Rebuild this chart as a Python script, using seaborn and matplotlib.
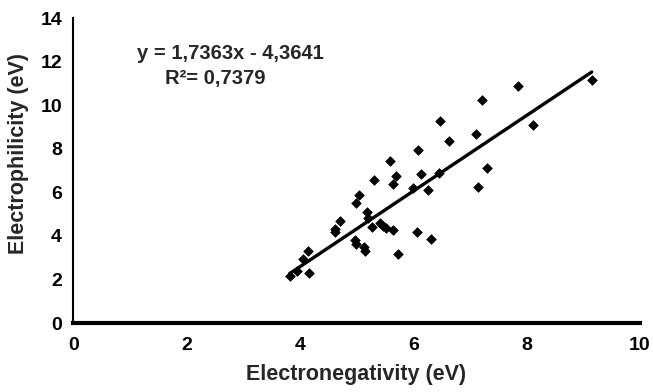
import matplotlib
matplotlib.use("Agg")
import matplotlib.pyplot as plt
import seaborn as sns
import numpy as np
import pandas as pd

electronegativity = [6.47, 6.64, 6.08, 5.59, 5.69, 5.30, 5.64, 6.13, 6.45, 5.99,
                     6.26, 5.04, 4.99, 5.18, 4.70, 4.62, 5.20, 5.27, 5.41, 5.46,
                     5.52, 5.64, 6.06, 6.31, 4.97, 4.99, 5.13, 5.15, 5.74, 4.14,
                     4.05, 3.82, 4.16, 9.15, 7.84, 7.22, 8.12, 7.10, 7.31, 7.15,
                     3.95, 4.62]
electrophilicity = [9.27, 8.35, 7.94, 7.43, 6.74, 6.56, 6.38, 6.83, 6.88, 6.19,
                    6.10, 5.87, 5.50, 5.09, 4.68, 4.31, 4.82, 4.40, 4.59, 4.45,
                    4.36, 4.27, 4.17, 3.85, 3.81, 3.62, 3.49, 3.30, 3.17, 3.30,
                    2.94, 2.15, 2.29, 11.15, 10.87, 10.23, 9.08, 8.67, 7.11, 6.24,
                    2.40, 4.20]
slope = 1.7363
intercept = -4.3641
r2 = 0.7379
x_ticks = [0, 2, 4, 6, 8, 10]
y_ticks = [0, 2, 4, 6, 8, 10, 12, 14]

df = pd.DataFrame({"x": electronegativity, "y": electrophilicity})
fit_x = np.array([min(electronegativity), max(electronegativity)])
fit_df = pd.DataFrame({"x": fit_x, "y": slope * fit_x + intercept})

sns.set_style("white")
plt.rcParams["font.family"] = ["Liberation Sans", "DejaVu Sans"]

fig = plt.figure(figsize=(6.53, 3.92), dpi=100)
ax = fig.add_axes([0.112, 0.176, 0.868, 0.778])

sns.lineplot(data=fit_df, x="x", y="y", ax=ax, color="black", linewidth=2.4)
sns.scatterplot(data=df, x="x", y="y", ax=ax, marker="D", s=24, color="black",
                edgecolor="black", linewidth=0.5, zorder=3)

ax.set_xlim(0, 10)
ax.set_ylim(0, 14)
ax.set_xticks(x_ticks)
ax.set_yticks(y_ticks)
ax.set_xticklabels([str(t) for t in x_ticks], fontsize=14, fontweight="bold")
ax.set_yticklabels([str(t) for t in y_ticks], fontsize=14, fontweight="bold")
ax.set_xlabel("Electronegativity (eV)", fontsize=15.5, fontweight="bold")
ax.set_ylabel("Electrophilicity (eV)", fontsize=15.5, fontweight="bold")
ax.xaxis.set_label_coords(0.5, -0.135)
ax.yaxis.set_label_coords(-0.078, 0.557)

for s in ["top", "right"]:
    ax.spines[s].set_visible(False)
ax.spines["left"].set_linewidth(1.5)
ax.spines["bottom"].set_linewidth(3)
ax.spines["left"].set_color("black")
ax.spines["bottom"].set_color("black")
ax.tick_params(axis="y", direction="out", length=5, width=1.5, pad=3, colors="black")
ax.tick_params(axis="x", direction="inout", length=8, width=1.5, pad=6, colors="black")

ax.text(1.13, 12.39, "y = 1,7363x - 4,3641", fontsize=14.5, fontweight="bold",
        ha="left", va="center")
ax.text(1.62, 11.24, "R\u00b2= 0,7379", fontsize=14.5, fontweight="bold",
        ha="left", va="center")

fig.savefig("out.png", dpi=100, facecolor="white")
